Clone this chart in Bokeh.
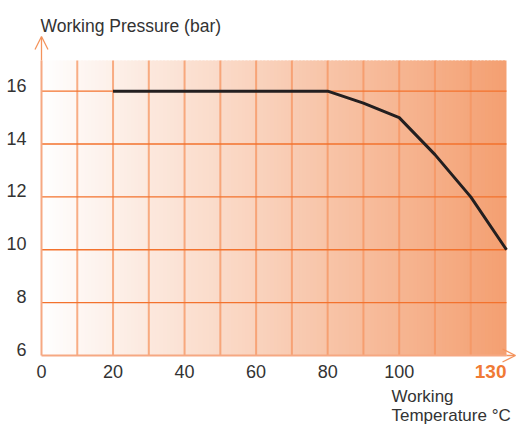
from bokeh.plotting import figure
from bokeh.models import Label, Arrow, OpenHead, FixedTicker, Range1d
from bokeh.embed import file_html
from bokeh.resources import INLINE
import numpy as np

# data
temperature = [20, 80, 90, 100, 110, 120, 130]
pressure = [16, 16, 15.55, 15, 13.6, 12, 10]
x_ticks = [0, 20, 40, 60, 80, 100, 130]
y_ticks = [6, 8, 10, 12, 14, 16]
x_grid = [10, 20, 30, 40, 50, 60, 70, 80, 90, 100, 110, 120]
y_grid = [8, 10, 12, 14, 16]
x_lo, x_hi = 0, 130
y_lo, y_hi = 6, 17.16

FONT = "'Liberation Sans', Arial, sans-serif"
TXT = "#333333"
AX = "#f6a882"
ARROW = "#f4935c"

W, H = 516, 427
left_px, right_px = 41, 506      # canvas pixel of x_lo / x_hi
top_px, bot_px = 60, 355         # canvas pixel of y_hi / y_lo
sx = (right_px - left_px) / (x_hi - x_lo)
sy = (bot_px - top_px) / (y_hi - y_lo)
xr = (x_lo - left_px / sx, x_hi + (W - right_px) / sx)
yr = (y_hi - (H - top_px) / sy, y_hi + top_px / sy)

def ypx(f):
    return y_hi - (f - top_px) / sy

def xpx(f):
    return x_lo + (f - left_px) / sx

p = figure(width=W, height=H, x_range=xr, y_range=yr,
           output_backend="svg", toolbar_location=None, min_border=0)
p.outline_line_color = None
p.background_fill_color = "white"
p.border_fill_color = "white"
p.xgrid.visible = False
p.ygrid.visible = False

# gradient background
n = 130
edges = np.linspace(x_lo, x_hi, n + 1)
t = (edges[:-1] + edges[1:]) / 2 / x_hi
c0 = np.array([255, 255, 255])
c1 = np.array([244, 160, 114])
cols = ["#%02x%02x%02x" % tuple((c0 + (c1 - c0) * tt).astype(int)) for tt in t]
rights = np.minimum(edges[1:] + 0.6, x_hi)
p.quad(left=edges[:-1], right=rights, bottom=y_lo, top=y_hi, fill_color=cols, line_color=None)

# grid lines
p.segment(x0=x_grid, y0=[y_lo] * len(x_grid), x1=x_grid, y1=[y_hi] * len(x_grid),
          line_color="#f59460", line_width=2, line_alpha=0.75)
p.segment(x0=[x_lo] * len(y_grid), y0=y_grid, x1=[x_hi] * len(y_grid), y1=y_grid,
          line_color="#f3722d", line_width=1.4)

# axes
for ax in (p.xaxis[0], p.yaxis[0]):
    ax.axis_line_color = AX
    ax.axis_line_width = 2
    ax.major_tick_line_color = None
    ax.minor_tick_line_color = None
    ax.major_label_text_font = FONT
    ax.major_label_text_font_size = "18px"
    ax.major_label_text_color = TXT
p.xaxis.fixed_location = y_lo
p.xaxis.bounds = (x_lo, x_hi)
p.xaxis.ticker = FixedTicker(ticks=x_ticks)
p.xaxis.major_label_overrides = {130: ""}
p.xaxis.major_label_standoff = 3

# y labels sit slightly above their grid lines: axis on a shifted twin range
d = 6 / sy
p.extra_y_ranges = {"lab": Range1d(yr[0] - d, yr[1] - d)}
p.yaxis.y_range_name = "lab"
p.yaxis.fixed_location = x_lo
p.yaxis.bounds = (y_lo - d, y_hi - d)
p.yaxis.ticker = FixedTicker(ticks=y_ticks)
p.yaxis.major_label_standoff = 9

# curve
p.line(temperature, pressure, line_color="#231f20", line_width=3)

# arrows
p.add_layout(Arrow(x_start=x_lo, y_start=y_hi, x_end=x_lo, y_end=ypx(36), line_color=ARROW,
                   line_width=1.3, end=OpenHead(size=13, line_color=ARROW, line_width=1.3)))
p.add_layout(Arrow(x_start=x_hi, y_start=y_lo, x_end=xpx(515), y_end=y_lo, line_color=ARROW,
                   line_width=1.3, end=OpenHead(size=13, line_color=ARROW, line_width=1.3)))

# texts
p.add_layout(Label(x=xpx(40), y=ypx(25.5), text="Working Pressure (bar)", text_font=FONT,
                   text_font_size="17.5px", text_color=TXT, text_baseline="alphabetic"))
p.add_layout(Label(x=x_hi, y=ypx(bot_px + 16), text="130", text_font=FONT,
                   text_font_size="19px", text_font_style="bold", text_color="#f07a35",
                   text_align="right", text_baseline="alphabetic"))
p.add_layout(Label(x=xpx(391), y=ypx(396), text="Working", text_font=FONT,
                   text_font_size="17px", text_color=TXT, text_baseline="alphabetic"))
p.add_layout(Label(x=xpx(391), y=ypx(415), text="Temperature °C", text_font=FONT,
                   text_font_size="17px", text_color=TXT, text_baseline="alphabetic"))

open("out.html", "w").write(file_html(p, INLINE))
